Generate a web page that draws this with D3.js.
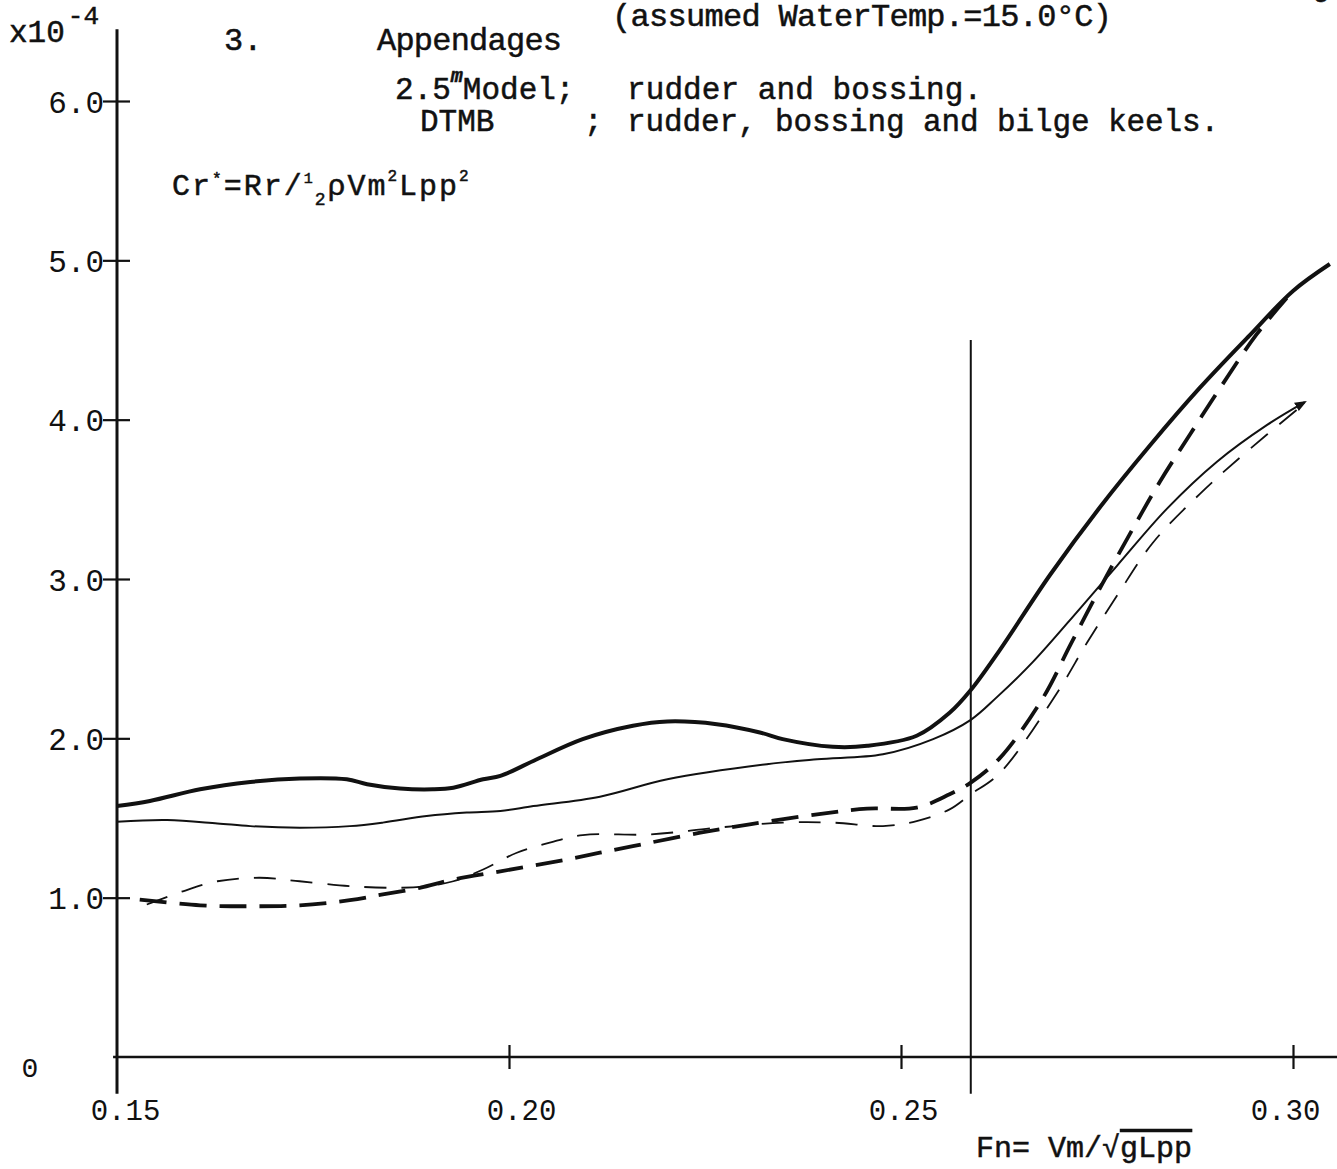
<!DOCTYPE html>
<html>
<head>
<meta charset="utf-8">
<script src="https://cdn.jsdelivr.net/npm/d3@7"></script>
<style>
  html, body { margin: 0; padding: 0; background: #fff; }
  svg { display: block; }
  text { font-family: "Liberation Mono", "DejaVu Sans Mono", monospace; fill: #111; }
  .typed { stroke: #111; stroke-width: 0.5px; }
</style>
</head>
<body>
<svg id="chart" width="1337" height="1169"></svg>
<script>
// ---- data ----
const xTickValues = [0.15, 0.20, 0.25, 0.30];
const xTickLabels = ["0.15", "0.20", "0.25", "0.30"];
const yTickValues = [1, 2, 3, 4, 5, 6];
const yTickLabels = ["1.0", "2.0", "3.0", "4.0", "5.0", "6.0"];
const markerFn = 0.2589;   // vertical reference line

// thick solid curve
const thickSolidFn = [0.150,0.1542,0.1606,0.1670,0.1733,0.1793,0.1819,0.1861,0.1903,0.1929,0.1967,0.1989,0.2031,0.2094,0.2158,0.2202,0.2265,0.2320,0.2349,0.2413,0.2457,0.2520,0.2562,0.2589,0.2626,0.2690,0.2754,0.2818,0.2881,0.2945,0.3000,0.3047];
const thickSolidCr = [1.575,1.607,1.680,1.726,1.748,1.743,1.712,1.685,1.680,1.690,1.743,1.764,1.858,1.995,2.079,2.106,2.089,2.037,1.995,1.947,1.953,2.016,2.160,2.303,2.554,3.025,3.452,3.841,4.199,4.531,4.808,4.977];

// thin solid curve
const thinSolidFn = [0.150,0.1564,0.1628,0.1670,0.1733,0.1797,0.1839,0.1895,0.1946,0.1989,0.2031,0.2116,0.2202,0.2329,0.2393,0.2477,0.2541,0.2589,0.2622,0.2668,0.2728,0.2776,0.2839,0.2903,0.2967,0.3015];
const thinSolidCr = [1.477,1.487,1.466,1.449,1.439,1.449,1.471,1.512,1.534,1.544,1.575,1.634,1.743,1.838,1.869,1.900,1.995,2.116,2.257,2.478,2.813,3.086,3.440,3.736,3.967,4.110];

// thick dashed curve
const thickDashFn = [0.1529,0.1606,0.1670,0.1733,0.1797,0.1839,0.1886,0.1929,0.1989,0.2074,0.2116,0.2158,0.2244,0.2307,0.2393,0.2457,0.2520,0.2562,0.2589,0.2626,0.2681,0.2716,0.2754,0.2792,0.2830,0.2869,0.2907,0.2954,0.3000];
const thickDashCr = [0.988,0.952,0.946,0.952,0.984,1.020,1.062,1.114,1.165,1.240,1.282,1.323,1.408,1.460,1.523,1.559,1.565,1.649,1.722,1.876,2.253,2.586,2.944,3.283,3.609,3.910,4.199,4.538,4.808];

// thin dashed curve
const thinDashFn = [0.1538,0.1584,0.1628,0.1682,0.1733,0.1797,0.1861,0.1895,0.1929,0.1967,0.2010,0.2052,0.2094,0.2180,0.2265,0.2349,0.2413,0.2477,0.2520,0.2562,0.2589,0.2626,0.2699,0.2737,0.2776,0.2821,0.2881,0.2936,0.3009];
const thinDashCr = [0.957,1.040,1.103,1.125,1.103,1.072,1.062,1.072,1.103,1.177,1.282,1.345,1.393,1.397,1.439,1.471,1.471,1.449,1.481,1.554,1.649,1.782,2.285,2.598,2.899,3.226,3.533,3.778,4.079];

// ---- drawing ----
const svg = d3.select("#chart");
svg.append("rect").attr("width", 1337).attr("height", 1169).attr("fill", "#fff");

const x = d3.scaleLinear().domain([0.15, 0.30]).range([117, 1293]);
const y = d3.scaleLinear().domain([0, 6]).range([1057, 101]);

const defs = svg.append("defs");
defs.append("marker").attr("id", "arrow")
  .attr("viewBox", "0 0 10 10").attr("refX", 8).attr("refY", 5)
  .attr("markerWidth", 6).attr("markerHeight", 6).attr("orient", "auto")
  .append("path").attr("d", "M0,1 L10,5 L0,9 Z").attr("fill", "#111");

// axes lines
svg.append("line").attr("x1", x(0.15)).attr("x2", x(0.15))
  .attr("y1", y(6.45)).attr("y2", y(-0.23))
  .attr("stroke", "#111").attr("stroke-width", 3);
svg.append("line").attr("x1", x(0.1495)).attr("x2", 1337)
  .attr("y1", y(0)).attr("y2", y(0))
  .attr("stroke", "#111").attr("stroke-width", 2.5);

// y axis ticks + labels
const yAxis = svg.append("g").attr("transform", `translate(${x(0.15)},0)`)
  .call(d3.axisLeft(y).tickValues(yTickValues)
    .tickFormat((d, i) => yTickLabels[i]).tickSizeInner(14).tickSizeOuter(0).tickPadding(-1));
yAxis.select(".domain").remove();
yAxis.selectAll(".tick line").attr("x1", 13).attr("stroke", "#111").attr("stroke-width", 2.2);
yAxis.selectAll(".tick text")
  .attr("font-family", "'Liberation Mono', monospace").attr("font-size", 31)
  .attr("fill", "#111").attr("dy", "0.36em");
svg.append("text").attr("x", 30).attr("y", y(0) + 20).attr("text-anchor", "middle")
  .attr("font-size", 28).attr("fill", "#333").text("0");

// x axis ticks + labels
const xAxis = svg.append("g").attr("transform", `translate(0,${y(0)})`)
  .call(d3.axisBottom(x).tickValues(xTickValues)
    .tickFormat((d, i) => xTickLabels[i]).tickSizeInner(12).tickSizeOuter(0).tickPadding(30));
xAxis.select(".domain").remove();
xAxis.selectAll(".tick line").attr("y1", -12).attr("stroke", "#111").attr("stroke-width", 2.2)
  .attr("opacity", (d) => d === 0.15 ? 0 : 1);
xAxis.selectAll(".tick text")
  .attr("font-family", "'Liberation Mono', monospace").attr("font-size", 29)
  .attr("fill", (d) => d === 0.30 ? "#9a9a9a" : (d === 0.15 ? "#222" : "#444"))
  .attr("dx", (d) => d === 0.15 ? 8 : (d === 0.30 ? -8 : (d === 0.20 ? 12 : 2)));

// vertical reference line
svg.append("line").attr("x1", x(markerFn)).attr("x2", x(markerFn))
  .attr("y1", y(4.5)).attr("y2", y(-0.23))
  .attr("stroke", "#111").attr("stroke-width", 2);

// curves
const line = d3.line().x(d => x(d[0])).y(d => y(d[1])).curve(d3.curveCatmullRom.alpha(0.5));
const zip = (a, b) => a.map((v, i) => [v, b[i]]);

svg.append("path").datum(zip(thinDashFn, thinDashCr)).attr("d", line)
  .attr("fill", "none").attr("stroke", "#111").attr("stroke-width", 1.8)
  .attr("stroke-dasharray", "22,15");
svg.append("path").datum(zip(thickDashFn, thickDashCr)).attr("d", line)
  .attr("fill", "none").attr("stroke", "#111").attr("stroke-width", 3.8)
  .attr("stroke-dasharray", "27,13");
svg.append("path").datum(zip(thinSolidFn, thinSolidCr)).attr("d", line)
  .attr("fill", "none").attr("stroke", "#111").attr("stroke-width", 2)
  .attr("marker-end", "url(#arrow)");
svg.append("path").datum(zip(thickSolidFn, thickSolidCr)).attr("d", line)
  .attr("fill", "none").attr("stroke", "#111").attr("stroke-width", 4);

// ---- texts ----
const T = (x0, y0, str, size, len) => {
  const t = svg.append("text").attr("class", "typed").attr("x", x0).attr("y", y0)
    .attr("font-size", size).text(str);
  if (len) t.attr("textLength", len).attr("lengthAdjust", "spacing");
  return t;
};

// y unit
const unit = svg.append("text").attr("class", "typed").attr("x", 9).attr("y", 42).attr("font-size", 31);
unit.append("tspan").text("x10");
unit.append("tspan").attr("dy", -18).attr("dx", 3).attr("font-size", 26).text("-4");

T(224, 50, "3.", 32);
T(377, 50, "Appendages", 32, 185);
T(612, 26, "(assumed WaterTemp.=15.0°C)", 32, 500);
T(1312, -4, "g", 30);

const m = svg.append("text").attr("class", "typed").attr("x", 395).attr("y", 99).attr("font-size", 31);
m.append("tspan").text("2.5");
m.append("tspan").attr("dy", -17).attr("font-size", 20).attr("font-style", "italic").attr("font-weight", "bold").text("m");
m.append("tspan").attr("dy", 17).text("Model;");
T(627, 99, "rudder and bossing.", 31, 355);
T(420, 131, "DTMB", 31);
T(584, 131, ";", 31);
T(627, 131, "rudder, bossing and bilge keels.", 31, 592);

const f = svg.append("text").attr("class", "typed").attr("x", 172).attr("y", 195)
  .attr("font-size", 30).attr("letter-spacing", 2);
f.append("tspan").text("Cr");
f.append("tspan").attr("dy", -11).attr("font-size", 16).text("*");
f.append("tspan").attr("dy", 11).text("=Rr/");
f.append("tspan").attr("dy", -12).attr("font-size", 15).text("1");
f.append("tspan").attr("dy", 22).attr("font-size", 18).text("2");
f.append("tspan").attr("dy", -10).text("ρVm");
f.append("tspan").attr("dy", -14).attr("font-size", 16).text("2");
f.append("tspan").attr("dy", 14).text("Lpp");
f.append("tspan").attr("dy", -14).attr("font-size", 16).text("2");

const fn = svg.append("text").attr("class", "typed").attr("x", 976).attr("y", 1157).attr("font-size", 30);
fn.append("tspan").text("Fn= Vm/√");
fn.append("tspan").style("text-decoration", "overline").text("gLpp");
</script>
</body>
</html>
